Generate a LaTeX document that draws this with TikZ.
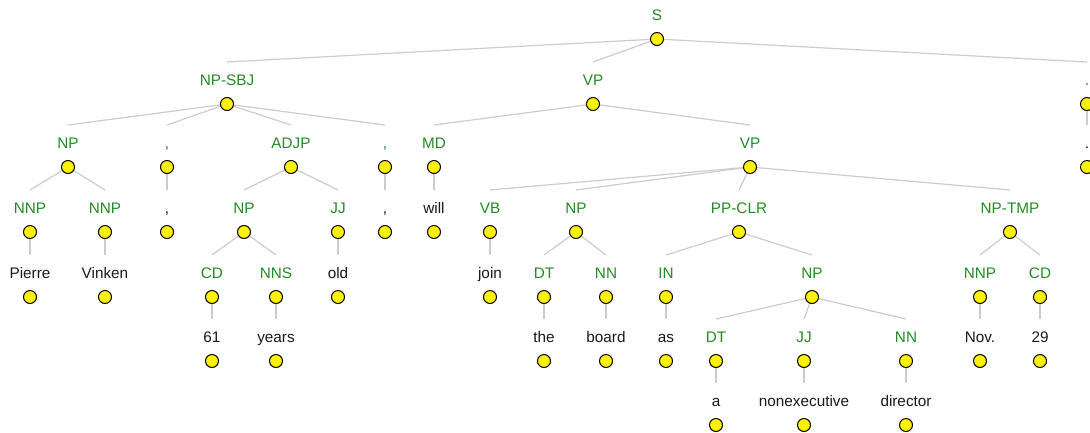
\documentclass[tikz,border=0pt]{standalone}
\usepackage{fontspec}
\setmainfont{Liberation Sans}
\usetikzlibrary{backgrounds}
\definecolor{labgreen}{RGB}{34,139,34}
\definecolor{wordblack}{RGB}{25,25,25}
\definecolor{edgegray}{RGB}{204,204,204}
\tikzset{
  lab/.style={font=\fontsize{15.3}{17}\selectfont, inner sep=0pt, anchor=base},
  cat/.style={lab, text=labgreen},
  wrd/.style={lab, text=wordblack},
  dot/.style={circle, draw=black, line width=1pt, fill=yellow, minimum size=13pt, inner sep=0pt},
  edge/.style={draw=edgegray, line width=1.2pt}
}
\newcommand\tnode[5]{%
  \node[#5] (#1-l) at (#2,{#3+5.5}) {#4};
  \coordinate (#1-e) at (#2,{#3-18});
  \node[dot] (#1) at (#2,{#3+24}) {};
}
\begin{document}
\begin{tikzpicture}[x=1pt,y=-1pt]
\useasboundingbox (0,0) rectangle (1090,432);
\def\La{15}\def\Lb{80}\def\Lc{143}\def\Ld{208}\def\Le{273}\def\Lf{337}\def\Lg{401}
\tnode{S}{657}{\La}{S}{cat}
\tnode{NPSBJ}{227}{\Lb}{NP-SBJ}{cat}
\tnode{VPa}{593}{\Lb}{VP}{cat}
\tnode{Pa}{1087}{\Lb}{.}{cat}
\tnode{NPa}{68}{\Lc}{NP}{cat}
\tnode{Ca}{167}{\Lc}{,}{cat}
\tnode{ADJP}{291}{\Lc}{ADJP}{cat}
\tnode{Cb}{385}{\Lc}{,}{cat}
\tnode{MD}{434}{\Lc}{MD}{cat}
\tnode{VPb}{750}{\Lc}{VP}{cat}
\tnode{Paw}{1087}{\Lc}{.}{wrd}
\tnode{NNPa}{30}{\Ld}{NNP}{cat}
\tnode{NNPb}{105}{\Ld}{NNP}{cat}
\tnode{Caw}{167}{\Ld}{,}{wrd}
\tnode{NPb}{244}{\Ld}{NP}{cat}
\tnode{JJa}{338}{\Ld}{JJ}{cat}
\tnode{Cbw}{385}{\Ld}{,}{wrd}
\tnode{will}{434}{\Ld}{will}{wrd}
\tnode{VB}{490}{\Ld}{VB}{cat}
\tnode{NPc}{576}{\Ld}{NP}{cat}
\tnode{PPCLR}{739}{\Ld}{PP-CLR}{cat}
\tnode{NPTMP}{1010}{\Ld}{NP-TMP}{cat}
\tnode{Pierre}{30}{\Le}{Pierre}{wrd}
\tnode{Vinken}{105}{\Le}{Vinken}{wrd}
\tnode{CDa}{212}{\Le}{CD}{cat}
\tnode{NNS}{276}{\Le}{NNS}{cat}
\tnode{old}{338}{\Le}{old}{wrd}
\tnode{join}{490}{\Le}{join}{wrd}
\tnode{DTa}{544}{\Le}{DT}{cat}
\tnode{NNa}{606}{\Le}{NN}{cat}
\tnode{IN}{666}{\Le}{IN}{cat}
\tnode{NPd}{812}{\Le}{NP}{cat}
\tnode{NNPc}{980}{\Le}{NNP}{cat}
\tnode{CDb}{1040}{\Le}{CD}{cat}
\tnode{sixtyone}{212}{\Lf}{61}{wrd}
\tnode{years}{276}{\Lf}{years}{wrd}
\tnode{the}{544}{\Lf}{the}{wrd}
\tnode{board}{606}{\Lf}{board}{wrd}
\tnode{as}{666}{\Lf}{as}{wrd}
\tnode{DTb}{716}{\Lf}{DT}{cat}
\tnode{JJb}{804}{\Lf}{JJ}{cat}
\tnode{NNb}{906}{\Lf}{NN}{cat}
\tnode{Nov}{980}{\Lf}{Nov.}{wrd}
\tnode{twentynine}{1040}{\Lf}{29}{wrd}
\tnode{a}{716}{\Lg}{a}{wrd}
\tnode{nonexec}{804}{\Lg}{nonexecutive}{wrd}
\tnode{director}{906}{\Lg}{director}{wrd}
\begin{pgfonlayer}{background}
\foreach \p/\c in {S/NPSBJ,S/VPa,S/Pa,
  NPSBJ/NPa,NPSBJ/Ca,NPSBJ/ADJP,NPSBJ/Cb,
  NPa/NNPa,NPa/NNPb,NNPa/Pierre,NNPb/Vinken,Ca/Caw,
  ADJP/NPb,ADJP/JJa,NPb/CDa,NPb/NNS,CDa/sixtyone,NNS/years,JJa/old,Cb/Cbw,
  VPa/MD,VPa/VPb,MD/will,
  VPb/VB,VPb/NPc,VPb/PPCLR,VPb/NPTMP,VB/join,
  NPc/DTa,NPc/NNa,DTa/the,NNa/board,
  PPCLR/IN,PPCLR/NPd,IN/as,
  NPd/DTb,NPd/JJb,NPd/NNb,DTb/a,JJb/nonexec,NNb/director,
  NPTMP/NNPc,NPTMP/CDb,NNPc/Nov,CDb/twentynine,Pa/Paw}
  \draw[edge] (\p.center) -- (\c-e);
\end{pgfonlayer}
\end{tikzpicture}
\end{document}
